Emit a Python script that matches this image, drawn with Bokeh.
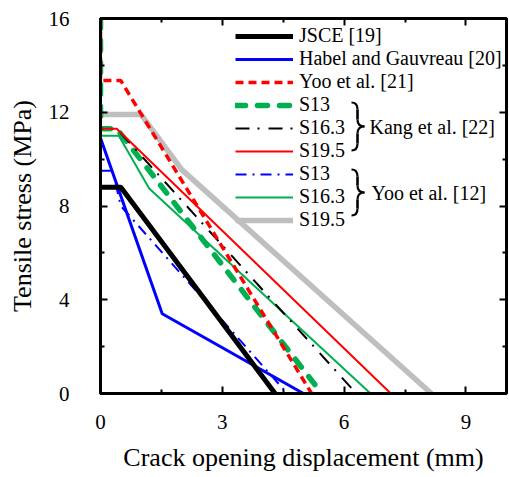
from bokeh.plotting import figure
from bokeh.models import (Range1d, FixedTicker, LinearAxis, Legend, LegendItem)
from bokeh.core.properties import value
from bokeh.embed import file_html
from bokeh.resources import INLINE

# ---------------- data (crack opening displacement mm, tensile stress MPa) ----
jsce_x = [0.0, 0.5, 4.3]
jsce_y = [8.8, 8.8, 0.0]

habel_x = [0.0, 1.52, 5.0]
habel_y = [10.9, 3.4, 0.0]

yoo21_x = [0.0, 0.0, 0.5, 5.2]
yoo21_y = [16.0, 13.35, 13.35, 0.0]

kang_s13_x = [0.0, 0.0, 0.4, 5.45]
kang_s13_y = [16.0, 11.3, 11.3, 0.0]

kang_s163_x = [0.0, 0.0, 0.4, 6.3]
kang_s163_y = [16.0, 11.3, 11.3, 0.0]

kang_s195_x = [0.0, 0.0, 0.4, 7.15]
kang_s195_y = [16.0, 11.3, 11.3, 0.0]

yoo12_s13_x = [0.0, 0.3, 0.5, 4.6]
yoo12_s13_y = [9.5, 9.5, 8.0, 0.0]

yoo12_s163_x = [0.0, 0.45, 1.2, 6.65]
yoo12_s163_y = [11.0, 11.0, 8.75, 0.0]

yoo12_s195_x = [0.0, 1.0, 2.0, 8.15]
yoo12_s195_y = [11.9, 11.9, 9.55, 0.0]

x_ticks = [0, 3, 6, 9]
x_minor = [1.5, 4.5, 7.5]
y_ticks = [0, 4, 8, 12, 16]
y_minor = [2, 6, 10, 14]

legend_labels = ["JSCE [19]", "Habel and Gauvreau [20]", "Yoo et al. [21]",
                 "S13", "S16.3", "S19.5", "S13", "S16.3", "S19.5"]
group_labels = ["Kang et al. [22]", "Yoo et al. [12]"]

FONT = "Liberation Serif"

# ---------------- figure ----------------
p = figure(width=509, height=477, output_backend="svg", toolbar_location=None,
           x_range=Range1d(0, 10), y_range=Range1d(0, 16),
           min_border_left=100, min_border_right=3, min_border_top=18,
           min_border_bottom=84)
p.grid.visible = False
p.outline_line_color = "black"
p.outline_line_width = 3
p.background_fill_color = "white"
p.border_fill_color = "white"


def style_axis(ax, labels=True):
    ax.axis_line_width = 3
    ax.axis_line_color = "black"
    ax.major_tick_in = 7
    ax.major_tick_out = 0
    ax.minor_tick_in = 4
    ax.minor_tick_out = 0
    ax.major_tick_line_width = 2
    ax.minor_tick_line_width = 2
    ax.major_label_text_font = FONT
    ax.axis_label_text_font = FONT
    ax.axis_label_text_font_style = "normal"
    ax.axis_label_text_color = "black"
    ax.axis_label_text_font_size = "26px"
    if labels:
        ax.major_label_text_font_size = "21px"
        ax.major_label_text_color = "black"
    else:
        ax.major_label_text_font_size = "1px"
        ax.major_label_text_color = None
        ax.major_label_standoff = 0


xt = FixedTicker(ticks=x_ticks, minor_ticks=x_minor)
yt = FixedTicker(ticks=y_ticks, minor_ticks=y_minor)

p.xaxis.ticker = xt
p.yaxis.ticker = yt
style_axis(p.xaxis[0])
style_axis(p.yaxis[0])
p.xaxis.axis_label = "Crack opening displacement (mm)"
p.yaxis.axis_label = "Tensile stress (MPa)"
p.xaxis.major_label_standoff = 21
p.xaxis.axis_label_standoff = 11
p.yaxis.major_label_standoff = 31
p.yaxis.axis_label_standoff = 9

top_ax = LinearAxis(ticker=FixedTicker(ticks=x_ticks, minor_ticks=x_minor))
style_axis(top_ax, labels=False)
p.add_layout(top_ax, "above")
right_ax = LinearAxis(ticker=FixedTicker(ticks=y_ticks, minor_ticks=y_minor))
style_axis(right_ax, labels=False)
p.add_layout(right_ax, "right")

# ---------------- series ----------------
r_gray = p.line(yoo12_s195_x, yoo12_s195_y, line_color="#BFBFBF", line_width=5.5)
r_kg = p.line(kang_s13_x, kang_s13_y, line_color="#00B050", line_width=5.5,
              line_dash="10 12", line_cap="round")
r_yg = p.line(yoo12_s163_x, yoo12_s163_y, line_color="#00B050", line_width=2)
r_kb = p.line(kang_s163_x, kang_s163_y, line_color="black", line_width=2,
              line_dash="14 8 2 9")
r_kr = p.line(kang_s195_x, kang_s195_y, line_color="#FF0000", line_width=2)
r_y21 = p.line(yoo21_x, yoo21_y, line_color="#FF0000", line_width=3.5,
               line_dash="8 5")
r_yb = p.line(yoo12_s13_x, yoo12_s13_y, line_color="#0000FF", line_width=2,
              line_dash="11 6 2 6")
r_hab = p.line(habel_x, habel_y, line_color="#0000FF", line_width=3)
r_jsce = p.line(jsce_x, jsce_y, line_color="black", line_width=5)

renderers = [r_jsce, r_hab, r_y21, r_kg, r_kb, r_kr, r_yb, r_yg, r_gray]
items = [LegendItem(label=lab, renderers=[r]) for lab, r in zip(legend_labels, renderers)]

ROW = 22
legend = Legend(items=items, location=(135, 162), orientation="vertical",
                label_text_font=FONT, label_text_font_size="20px",
                label_text_color="black",
                glyph_width=58, glyph_height=ROW, label_height=ROW,
                label_standoff=6, spacing=-3, padding=0, margin=0,
                border_line_alpha=0, background_fill_alpha=0)
p.add_layout(legend)

# ---------------- braces and group labels ----------------
PX_X0, PX_PER_X = 100.0, 40.6
PX_Y0, PX_PER_Y = 393.0, 375.0 / 16.0


def dx(px):
    return (px - PX_X0) / PX_PER_X


def dy(py):
    return (PX_Y0 - py) / PX_PER_Y


def brace(yt_px, yb_px, xl=351, xm=357, xr=364, a=7):
    ym = (yt_px + yb_px) / 2.0
    kw = dict(line_color="black", line_width=2.2)
    p.quadratic(x0=[dx(xl)], y0=[dy(yt_px)], x1=[dx(xm)], y1=[dy(yt_px + a)],
                cx=[dx(xm)], cy=[dy(yt_px)], **kw)
    p.segment(x0=[dx(xm)], y0=[dy(yt_px + a)], x1=[dx(xm)], y1=[dy(ym - a)],
              line_color="black", line_width=2.6)
    p.quadratic(x0=[dx(xm)], y0=[dy(ym - a)], x1=[dx(xr)], y1=[dy(ym)],
                cx=[dx(xm)], cy=[dy(ym)], **kw)
    p.quadratic(x0=[dx(xr)], y0=[dy(ym)], x1=[dx(xm)], y1=[dy(ym + a)],
                cx=[dx(xm)], cy=[dy(ym)], **kw)
    p.segment(x0=[dx(xm)], y0=[dy(ym + a)], x1=[dx(xm)], y1=[dy(yb_px - a)],
              line_color="black", line_width=2.6)
    p.quadratic(x0=[dx(xm)], y0=[dy(yb_px - a)], x1=[dx(xl)], y1=[dy(yb_px)],
                cx=[dx(xm)], cy=[dy(yb_px)], **kw)
    return ym


ym1 = brace(102, 150)
ym2 = brace(169, 215)
p.text(x=[dx(369), dx(371)], y=[dy(ym1), dy(ym2)], text=group_labels,
       text_font=value(FONT), text_font_size="20px", text_color="black",
       text_baseline="middle", text_align="left")

open("out.html", "w").write(file_html(p, INLINE))
